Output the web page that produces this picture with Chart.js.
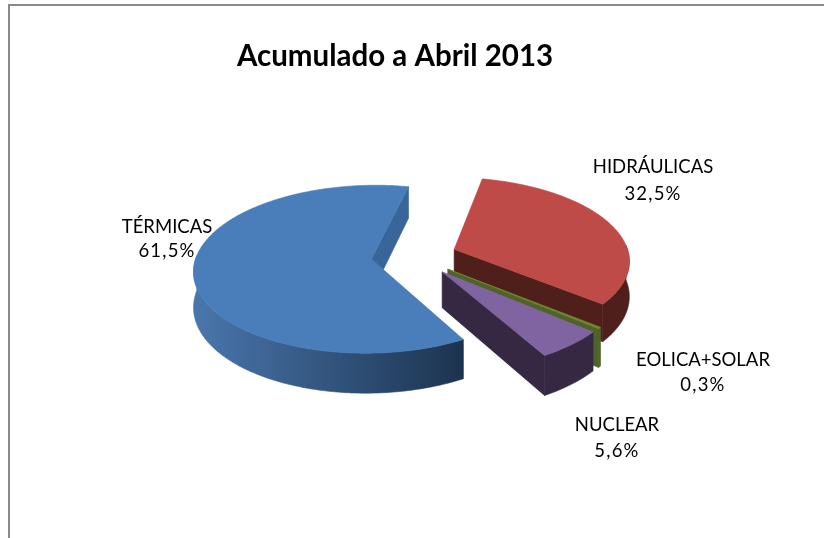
<!DOCTYPE html>
<html><head><meta charset="utf-8">
<style>html,body{margin:0;padding:0;background:#fff;overflow:hidden}#wrap{position:relative;width:824px;height:538px}</style>
<script src="https://cdn.jsdelivr.net/npm/chart.js@4"></script>
</head><body><div id="wrap"><canvas id="c" width="824" height="538"></canvas></div>
<script>
const categories = ['HIDRÁULICAS','EOLICA+SOLAR','NUCLEAR','TÉRMICAS'];
const values = [32.5,0.3,5.6,61.5];
const valueLabels = ['32,5%','0,3%','5,6%','61,5%'];
const topColors = ['#BE4B48','#6F8A33','#8064A2','#4A7EBB'];
const wallColors = ['#4F1F1C','#4F6228','#362843','#39669A'];
const outerFrom = ['#4F1F1C','#4F6228','#362843','#4976AC'];
const outerTo = ['#4F1F1C','#4F6228','#362843','#1C334F'];

const VIEW = {cx:414, cy:256, rx:175, ry:82, k:0.12, h:35};
const labelPos = [[653,173,200],[703,366,391],[617,431,457],[167,233,257]];
const titleText = 'Acumulado a Abril 2013';

function project(X,Y,Z){
  const s = 1/(1-VIEW.k*Y);
  return [VIEW.cx+X*VIEW.rx*s, VIEW.cy+Y*VIEW.ry*s+Z*VIEW.h*s];
}
function poly(ctx,pts,fill){
  ctx.beginPath();
  pts.forEach((p,i)=> i?ctx.lineTo(p[0],p[1]):ctx.moveTo(p[0],p[1]));
  ctx.closePath();
  ctx.fillStyle=fill; ctx.strokeStyle=fill; ctx.lineWidth=0.6;
  ctx.fill(); ctx.stroke();
}
const pie3d = {
  id:'pie3d',
  beforeDatasetsDraw(chart){
    const ctx = chart.ctx;
    const arcs = chart.getDatasetMeta(0).data;
    ctx.save();
    [3,0,1,2].forEach(i=>{
      const a = arcs[i];
      const R = a.outerRadius;
      const off = a.options.offset/R;
      const s0=a.startAngle, s1=a.endAngle, mid=(s0+s1)/2;
      const ox=Math.cos(mid)*off, oy=Math.sin(mid)*off;
      const pt=(t,z)=>project(ox+Math.cos(t),oy+Math.sin(t),z);
      const apex=z=>project(ox,oy,z);
      poly(ctx,[apex(0),pt(s1,0),pt(s1,1),apex(1)],wallColors[i]);
      const n=Math.max(4,Math.ceil((s1-s0)/0.015));
      const left=project(ox-1,oy,0)[0], right=pt(s0,0)[0];
      const g=ctx.createLinearGradient(Math.min(left,right),0,Math.max(left,right),0);
      g.addColorStop(0,outerFrom[i]); g.addColorStop(1,outerTo[i]);
      const upper=[],lower=[];
      for(let j=0;j<=n;j++){
        const t=s0+(s1-s0)*j/n;
        if(Math.sin(t)>-0.05){upper.push(pt(t,0));lower.unshift(pt(t,1));}
      }
      if(upper.length>1) poly(ctx,upper.concat(lower),g);
      const top=[apex(0)];
      for(let j=0;j<=n;j++) top.push(pt(s0+(s1-s0)*j/n,0));
      poly(ctx,top,topColors[i]);
    });
    ctx.restore();
    return false;
  },
  afterDraw(chart){
    const ctx=chart.ctx;
    ctx.save();
    ctx.strokeStyle='#8A8A8A'; ctx.lineWidth=2;
    ctx.beginPath(); ctx.moveTo(9,538); ctx.lineTo(9,5); ctx.lineTo(824,5); ctx.stroke();
    ctx.fillStyle='#000'; ctx.font='18.5px Lato'; ctx.textAlign='center'; ctx.textBaseline='alphabetic';
    categories.forEach((c,i)=>{
      const p=labelPos[i];
      ctx.letterSpacing='0px';
      ctx.fillText(c,p[0],p[1]);
      ctx.letterSpacing='1.2px';
      ctx.fillText(valueLabels[i],p[0],p[2]);
    });
    ctx.restore();
  }
};
new Chart(document.getElementById('c'),{
  type:'pie',
  data:{labels:categories,datasets:[{data:values,backgroundColor:topColors,offset:43,borderWidth:0}]},
  options:{
    responsive:false,animation:false,rotation:12,radius:175,
    layout:{padding:{right:34}},
    plugins:{
      legend:{display:false},tooltip:{enabled:false},
      title:{display:true,text:titleText,color:'#000',font:{family:'Lato',size:29.5,weight:'bold'},padding:{top:39,bottom:10}}
    }
  },
  plugins:[pie3d]
});
</script></body></html>
